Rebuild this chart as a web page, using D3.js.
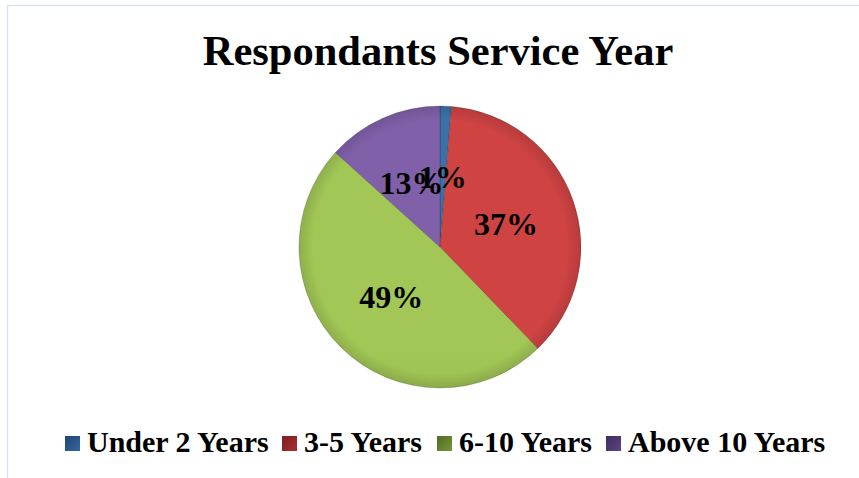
<!DOCTYPE html>
<html>
<head>
<meta charset="utf-8">
<script src="https://cdn.jsdelivr.net/npm/d3@7"></script>
<style>
  body { margin: 0; background: #fff; }
  svg { display: block; }
  text { font-family: "Liberation Serif", "Times New Roman", serif; font-weight: bold; fill: #000; }
</style>
</head>
<body>
<svg id="chart"></svg>
<script>
var width = 859;
var height = 478;

var categories = ["Under 2 Years", "3-5 Years", "6-10 Years", "Above 10 Years"];
var values = [1.3, 36.5, 48.9, 13.3];
var topColors = ["#3a72a8", "#cf4343", "#a2c756", "#8160aa"];
var bottomColors = ["#22507f", "#9a2c2c", "#7c9a38", "#5c437f"];
var legendDark = ["#1d4573", "#7a1f1f", "#4f6b22", "#3e2d5e"];
var legendLight = ["#3566a0", "#a83030", "#76963a", "#5c4585"];

var cx = 440, cy = 247, radius = 141;

var svg = d3.select("#chart")
    .attr("width", width)
    .attr("height", height);

// chart area border
svg.append("rect")
    .attr("x", 7.5)
    .attr("y", 5.5)
    .attr("width", width)
    .attr("height", height)
    .attr("fill", "none")
    .attr("stroke", "#dae3f3")
    .attr("stroke-width", 1.5);

var defs = svg.append("defs");

categories.forEach(function(c, i) {
  var g = defs.append("linearGradient")
      .attr("id", "slice" + i)
      .attr("gradientUnits", "userSpaceOnUse")
      .attr("x1", 0).attr("y1", cy - radius)
      .attr("x2", 0).attr("y2", cy + radius);
  g.append("stop").attr("offset", "0%").attr("stop-color", topColors[i]);
  g.append("stop").attr("offset", "100%").attr("stop-color", bottomColors[i]);

  var lg = defs.append("linearGradient")
      .attr("id", "leg" + i)
      .attr("x1", 0).attr("y1", 0)
      .attr("x2", 1).attr("y2", 1);
  lg.append("stop").attr("offset", "0%").attr("stop-color", legendDark[i]);
  lg.append("stop").attr("offset", "100%").attr("stop-color", legendLight[i]);
});

var edge = defs.append("radialGradient").attr("id", "edge");
edge.append("stop").attr("offset", "90%").attr("stop-color", "#000").attr("stop-opacity", 0);
edge.append("stop").attr("offset", "100%").attr("stop-color", "#000").attr("stop-opacity", 0.12);

svg.append("text")
    .attr("x", 438)
    .attr("y", 65)
    .attr("text-anchor", "middle")
    .style("font-size", "42.5px")
    .text("Respondants Service Year");

var pie = d3.pie().sort(null).value(function(d) { return d; });
var arcs = pie(values);
var arc = d3.arc().innerRadius(0).outerRadius(radius);
var labelArc = d3.arc().innerRadius(70).outerRadius(70);
var total = d3.sum(values);

var pieG = svg.append("g").attr("transform", "translate(" + cx + "," + cy + ")");

pieG.selectAll("path.slice")
  .data(arcs)
  .enter()
  .append("path")
    .attr("class", "slice")
    .attr("d", arc)
    .attr("fill", function(d, i) { return "url(#slice" + i + ")"; })
    .attr("stroke", "rgba(0,0,0,0.18)")
    .attr("stroke-width", 1);

pieG.append("circle")
    .attr("r", radius)
    .attr("fill", "url(#edge)");

pieG.selectAll("text.lbl")
  .data(arcs)
  .enter()
  .append("text")
    .attr("class", "lbl")
    .attr("transform", function(d) { return "translate(" + labelArc.centroid(d) + ")"; })
    .attr("text-anchor", "middle")
    .attr("dy", "0.35em")
    .style("font-size", "32px")
    .text(function(d) { return Math.round(d.value / total * 100) + "%"; });

var legendX = [65, 282, 437, 606];
var legend = svg.selectAll("g.legend")
  .data(categories)
  .enter()
  .append("g")
    .attr("class", "legend")
    .attr("transform", function(d, i) { return "translate(" + legendX[i] + ",436)"; });

legend.append("rect")
    .attr("width", 15)
    .attr("height", 15)
    .attr("fill", function(d, i) { return "url(#leg" + i + ")"; });

legend.append("text")
    .attr("x", 22)
    .attr("y", 16)
    .style("font-size", "30px")
    .text(function(d) { return d; });
</script>
</body>
</html>
